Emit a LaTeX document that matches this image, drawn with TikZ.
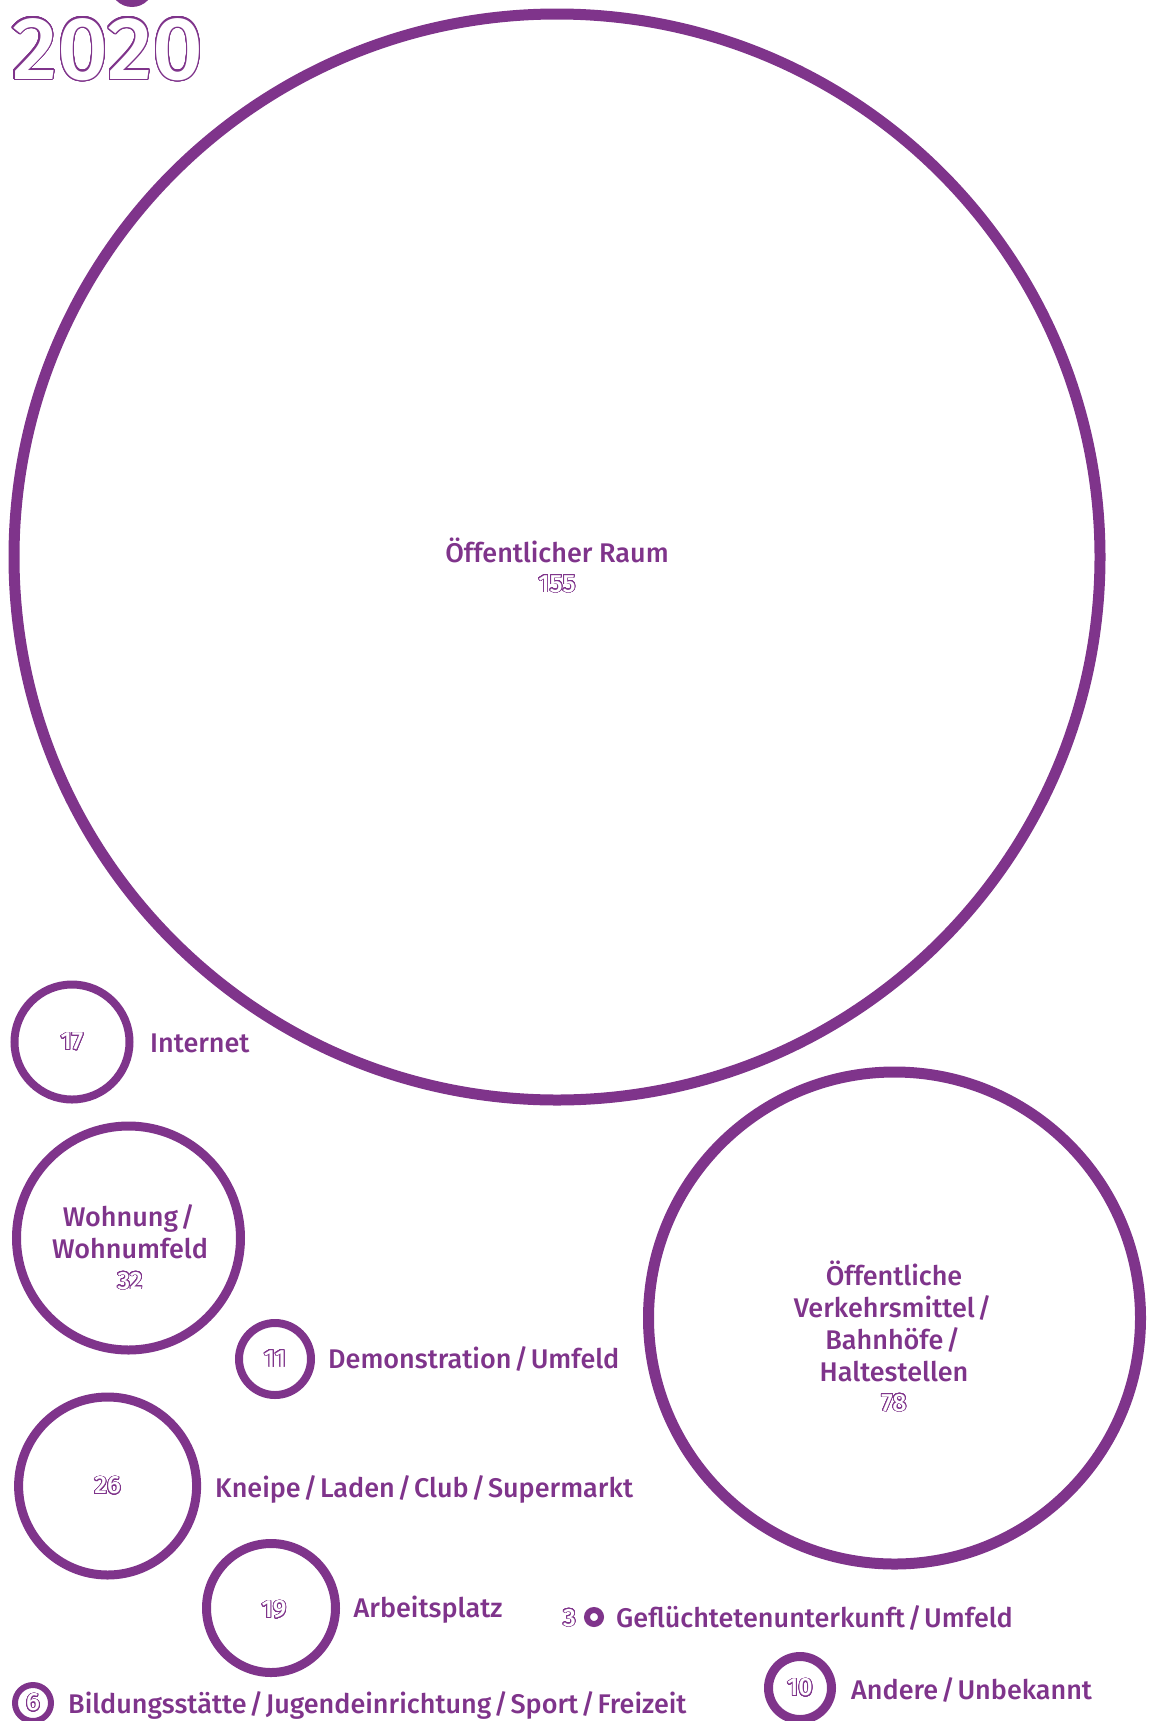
\documentclass[tikz,border=0pt]{standalone}
\usepackage{fontspec}
\setmainfont{Fira Sans}[UprightFont=* Medium]
\usepackage{contour}
\contourlength{0.8pt}
\contournumber{32}
\definecolor{purp}{RGB}{127,52,139}
\newcommand\onum[1]{\textcolor{white}{\contour{purp}{#1}}}
\newcommand\slsep{\kern2.6pt/\kern2.6pt}
\begin{document}
\begin{tikzpicture}[x=1pt,y=-1pt,
  ring/.style={draw=purp, circle, inner sep=0pt},
  lab/.style={text=purp, font=\fontsize{27}{32}\selectfont, inner sep=0pt},
  llab/.style={lab, anchor=base west},
  num/.style={font=\fontsize{25}{30}\selectfont, inner sep=0pt}]
\useasboundingbox (0,0) rectangle (1156,1721);
% top dot and year
\node[circle, fill=purp, minimum size=44pt, inner sep=0pt] (dot) at (132,-15) {};
\node[anchor=base west, inner sep=0pt, font=\fontsize{89}{95}\selectfont] (year) at (12,79) {\contourlength{1.3pt}\onum{2020}};
% big circle
\node[ring, minimum size=1086pt, line width=11pt] (big) at (557,557) {};
\node[lab, anchor=base] (bigl) at (557,562) {Öffentlicher Raum};
\node[num, anchor=base] (bign) at (557,592) {\onum{155}};
% Internet
\node[ring, minimum size=115pt, line width=8pt] (inet) at (72,1042) {};
\node[num] (inetn) at (inet.center) {\onum{17}};
\node[llab] (inetl) at (150,1052) {Internet};
% Wohnung
\node[ring, minimum size=224pt, line width=9pt] (wohn) at (128.5,1238) {};
\node[lab, anchor=base, align=center] (wohnl) at (130,1258) {Wohnung\slsep\\Wohnumfeld};
\node[num, anchor=base] (wohnn) at (130,1289) {\onum{32}};
% Demonstration
\node[ring, minimum size=72pt, line width=8pt] (demo) at (275,1359) {};
\node[num] (demon) at (demo.center) {\onum{11}};
\node[llab] (demol) at (328,1368) {Demonstration\slsep Umfeld};
% Kneipe
\node[ring, minimum size=178pt, line width=9pt] (knei) at (107.6,1486) {};
\node[num] (knein) at (knei.center) {\onum{26}};
\node[llab] (kneil) at (215,1497) {Kneipe\slsep Laden\slsep Club\slsep Supermarkt};
% Arbeitsplatz
\node[ring, minimum size=129pt, line width=9pt] (arb) at (271,1608) {};
\node[num] (arbn) at (274,1610) {\onum{19}};
\node[llab] (arbl) at (353.5,1617) {Arbeitsplatz};
% Gefluechtete
\node[ring, minimum size=14pt, line width=6pt] (gef) at (594,1617) {};
\node[num, anchor=base east] (gefn) at (576,1626) {\onum{3}};
\node[llab] (gefl) at (616,1627) {Geflüchtetenunterkunft\slsep Umfeld};
% Bildung
\node[ring, minimum size=36pt, line width=6pt] (bild) at (33,1703) {};
\node[num] (bildn) at (bild.center) {\onum{6}};
\node[llab] (bildl) at (68,1713) {Bildungsstätte\slsep Jugendeinrichtung\slsep Sport\slsep Freizeit};
% Andere
\node[ring, minimum size=63pt, line width=9pt] (and) at (800,1688) {};
\node[num] (andn) at (and.center) {\onum{10}};
\node[llab] (andl) at (851,1699) {Andere\slsep Unbekannt};
% OEV
\node[ring, minimum size=492pt, line width=11pt] (oev) at (894.5,1318) {};
\node[lab, anchor=base, align=center] (oevl) at (894,1381) {Öffentliche\\Verkehrsmittel\slsep\\Bahnhöfe\slsep\\Haltestellen};
\node[num, anchor=base] (oevn) at (894,1411) {\onum{78}};
\end{tikzpicture}
\end{document}
